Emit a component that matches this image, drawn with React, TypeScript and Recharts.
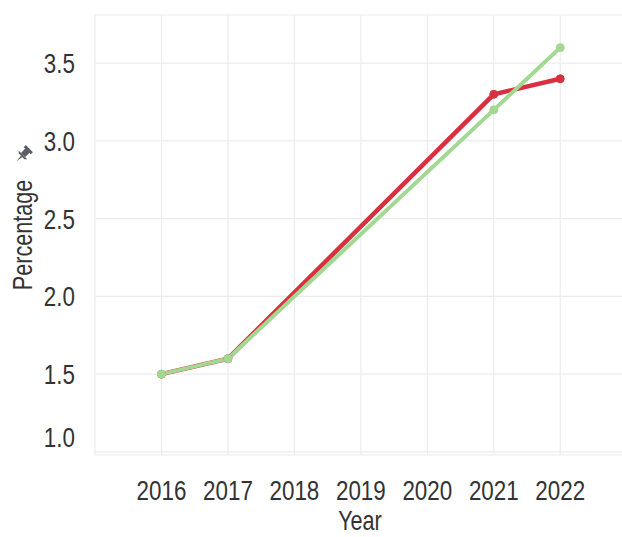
import { CartesianGrid, Line, LineChart, ReferenceLine, XAxis, YAxis } from "recharts";

const years = [2016, 2017, 2021, 2022];
const redValues = [1.5, 1.6, 3.3, 3.4];
const greenValues = [1.5, 1.6, 3.2, 3.6];
const xTicks = [2015, 2016, 2017, 2018, 2019, 2020, 2021, 2022];
const yTicks = [1.0, 1.5, 2.0, 2.5, 3.0, 3.5];

const data = years.map((year, i) => ({ year, red: redValues[i], green: greenValues[i] }));

const FONT = "'Liberation Sans', Arial, sans-serif";
const NARROW = 0.8;
const PLOT_BOTTOM = 455;
const GRID = "#ececec";

function NarrowText({ x, y, anchor, size, children, rotate = 0 }: any) {
  return (
    <text
      transform={`translate(${x},${y}) rotate(${rotate}) scale(${NARROW},1)`}
      textAnchor={anchor}
      fontFamily={FONT}
      fontSize={size}
      fill="#333"
    >
      {children}
    </text>
  );
}

function YTick({ x, y, payload }: any) {
  const ty = Math.min(y, PLOT_BOTTOM - 18);
  return (
    <NarrowText x={x - 12} y={ty + 10} anchor="end" size={28}>
      {payload.value.toFixed(1)}
    </NarrowText>
  );
}

function XTick({ x, y, payload }: any) {
  if (payload.value === 2015) return null;
  return (
    <NarrowText x={x} y={y + 37} anchor="middle" size={28}>
      {payload.value}
    </NarrowText>
  );
}

function XLabel() {
  return (
    <NarrowText x={360} y={530} anchor="middle" size={27}>
      Year
    </NarrowText>
  );
}

function YLabel() {
  return (
    <g>
      <NarrowText x={32} y={235} anchor="middle" size={27} rotate={-90}>
        Percentage
      </NarrowText>
      <g transform="translate(23,155) rotate(45)" fill="#5a5f66">
        <rect x={-3} y={-7} width={6} height={7} />
        <rect x={-5} y={-9} width={10} height={3} />
        <path d="M-6 0 L6 0 L4 2 L-4 2 Z" />
        <path d="M-1 2 L1 2 L0 9 Z" />
      </g>
    </g>
  );
}

export default function App() {
  return (
    <div
      style={{
        position: "absolute",
        left: 0,
        top: 0,
        width: 622,
        height: 537,
        overflow: "hidden",
        background: "#fff",
      }}
    >
      <LineChart width={640} height={537} data={data} margin={{ top: 15, right: 0, bottom: 0, left: 0 }}>
        <CartesianGrid stroke={GRID} strokeWidth={1.2} vertical={false} />
        {xTicks.map((t) => (
          <ReferenceLine key={t} x={t} stroke={GRID} strokeWidth={1.2} />
        ))}
        <XAxis
          dataKey="year"
          type="number"
          domain={[2015, 2023.2]}
          ticks={xTicks}
          allowDataOverflow
          axisLine={false}
          tickLine={false}
          height={82}
          tick={<XTick />}
          label={<XLabel />}
        />
        <YAxis
          type="number"
          domain={[0.98, 3.81]}
          ticks={yTicks}
          allowDataOverflow
          axisLine={false}
          tickLine={false}
          width={95}
          tick={<YTick />}
          label={<YLabel />}
        />
        <Line
          type="linear"
          dataKey="red"
          stroke="#d7303f"
          strokeWidth={4.5}
          dot={{ r: 4, fill: "#d7303f", stroke: "#d7303f", strokeWidth: 1 }}
          isAnimationActive={false}
        />
        <Line
          type="linear"
          dataKey="green"
          stroke="#a3d893"
          strokeWidth={4}
          dot={{ r: 4, fill: "#a3d893", stroke: "#a3d893", strokeWidth: 1 }}
          isAnimationActive={false}
        />
      </LineChart>
    </div>
  );
}
